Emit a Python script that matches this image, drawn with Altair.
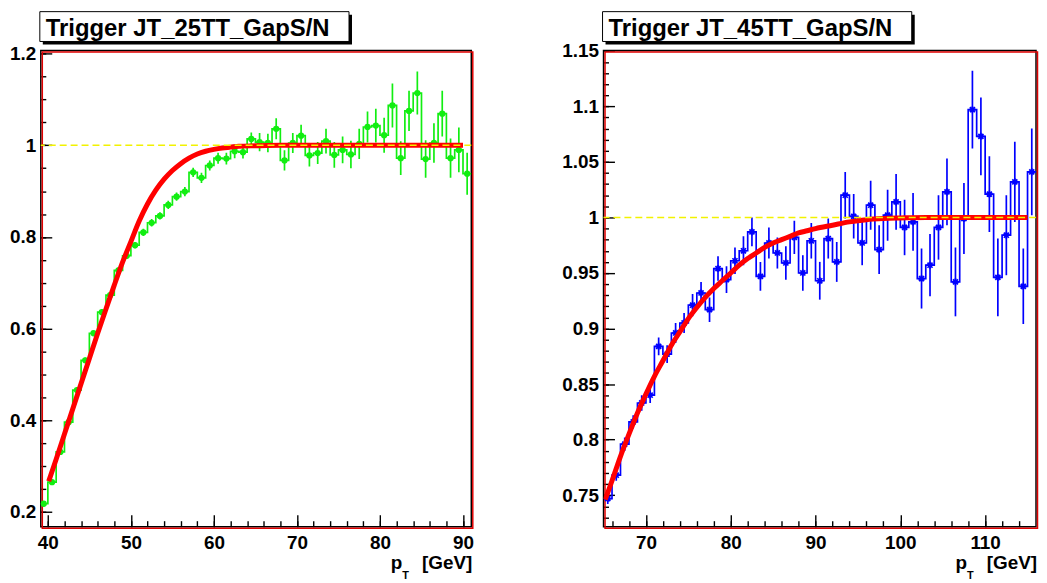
import altair as alt
import pandas as pd

FONT = "Liberation Sans"

# ---------------- left panel : Trigger JT_25TT_GapS/N ----------------
L_TITLE = "Trigger JT_25TT_GapS/N"
L_X = [39.5, 40.5, 41.5, 42.5, 43.5, 44.5, 45.5, 46.5, 47.5, 48.5, 49.5,
       50.5, 51.5, 52.5, 53.5, 54.5, 55.5, 56.5, 57.5, 58.5, 59.5,
       60.5, 61.5, 62.5, 63.5, 64.5, 65.5, 66.5, 67.5, 68.5, 69.5,
       70.5, 71.5, 72.5, 73.5, 74.5, 75.5, 76.5, 77.5, 78.5, 79.5,
       80.5, 81.5, 82.5, 83.5, 84.5, 85.5, 86.5, 87.5, 88.5, 89.5, 90.5]
L_Y = [0.218, 0.265, 0.331, 0.396, 0.466, 0.531, 0.590, 0.636, 0.673, 0.727, 0.759,
       0.782, 0.810, 0.831, 0.846, 0.870, 0.888, 0.899, 0.941, 0.929, 0.956,
       0.972, 0.971, 0.987, 0.985, 1.014, 1.007, 1.005, 1.036, 0.967, 1.005,
       1.021, 0.978, 0.983, 1.009, 0.979, 0.990, 0.980, 1.003, 1.040, 1.043,
       1.022, 1.087, 0.972, 1.075, 1.114, 0.970, 1.005, 1.069, 0.972, 0.990, 0.938]
L_ERR = [0.006, 0.006, 0.006, 0.006, 0.006, 0.006, 0.006, 0.007, 0.007, 0.007, 0.007,
         0.007, 0.008, 0.008, 0.008, 0.009, 0.009, 0.010, 0.010, 0.011, 0.011,
         0.012, 0.013, 0.015, 0.014, 0.014, 0.020, 0.020, 0.023, 0.022, 0.022,
         0.024, 0.024, 0.024, 0.027, 0.028, 0.029, 0.030, 0.033, 0.034, 0.037,
         0.038, 0.048, 0.037, 0.044, 0.047, 0.041, 0.043, 0.050, 0.043, 0.049, 0.046]
L_FIT_X = [40.1, 41, 42, 43, 44, 45, 46, 47, 48, 49, 50, 51, 52, 53, 54, 55, 56,
           57, 58, 59, 60, 61, 62, 63, 65, 68, 72, 80, 90]
L_FIT_Y = [0.267, 0.315, 0.370, 0.425, 0.480, 0.535, 0.590, 0.643, 0.695, 0.745,
           0.790, 0.835, 0.872, 0.902, 0.926, 0.945, 0.960, 0.972, 0.981, 0.987,
           0.991, 0.994, 0.996, 0.998, 0.999, 1.0, 1.0, 1.0, 1.0]
L_XDOM = [39.15, 91.0]
L_YDOM = [0.168, 1.207]
L_XTICKS = [40, 50, 60, 70, 80, 90]
L_XMINOR = [40, 42, 44, 46, 48, 50, 52, 54, 56, 58, 60, 62, 64, 66, 68, 70,
            72, 74, 76, 78, 80, 82, 84, 86, 88, 90]
L_YTICKS = [0.2, 0.4, 0.6, 0.8, 1.0, 1.2]
L_YMINOR = [0.2, 0.25, 0.3, 0.35, 0.4, 0.45, 0.5, 0.55, 0.6, 0.65, 0.7, 0.75,
            0.8, 0.85, 0.9, 0.95, 1.0, 1.05, 1.1, 1.15, 1.2]

# ---------------- right panel : Trigger JT_45TT_GapS/N ----------------
R_TITLE = "Trigger JT_45TT_GapS/N"
R_X = [65.5, 66.5, 67.5, 68.5, 69.5,
       70.5, 71.5, 72.5, 73.5, 74.5, 75.5, 76.5, 77.5, 78.5, 79.5,
       80.5, 81.5, 82.5, 83.5, 84.5, 85.5, 86.5, 87.5, 88.5, 89.5,
       90.5, 91.5, 92.5, 93.5, 94.5, 95.5, 96.5, 97.5, 98.5, 99.5,
       100.5, 101.5, 102.5, 103.5, 104.5, 105.5, 106.5, 107.5, 108.5, 109.5,
       110.5, 111.5, 112.5, 113.5, 114.5, 115.5]
R_Y = [0.747, 0.768, 0.796, 0.816, 0.833,
       0.840, 0.884, 0.877, 0.896, 0.905, 0.921, 0.932, 0.917, 0.954, 0.944,
       0.961, 0.970, 0.987, 0.947, 0.977, 0.968, 0.959, 0.982, 0.950, 0.979,
       0.943, 0.981, 0.960, 1.020, 1.001, 0.977, 1.011, 0.971, 1.002, 1.014,
       0.991, 0.996, 0.945, 0.957, 0.991, 1.023, 0.942, 0.999, 1.097, 1.073,
       1.021, 0.946, 0.984, 1.032, 0.938, 1.041]
R_ERR = [0.005, 0.005, 0.006, 0.006, 0.007,
         0.007, 0.008, 0.008, 0.009, 0.009, 0.010, 0.010, 0.011, 0.011, 0.012,
         0.012, 0.013, 0.013, 0.013, 0.014, 0.014, 0.015, 0.015, 0.016, 0.016,
         0.017, 0.018, 0.018, 0.021, 0.020, 0.020, 0.022, 0.022, 0.023, 0.025,
         0.025, 0.026, 0.027, 0.028, 0.029, 0.030, 0.031, 0.032, 0.035, 0.035,
         0.034, 0.035, 0.036, 0.036, 0.034, 0.039]
R_FIT_X = [65.2, 66, 67, 68, 69, 70, 71, 72, 73, 74, 75, 76, 77, 78, 79, 80, 81,
           82, 83, 84, 85, 86, 87, 88, 89, 90, 92, 94, 96, 98, 100, 103, 106, 110, 115]
R_FIT_Y = [0.746, 0.763, 0.785, 0.805, 0.824, 0.841, 0.857, 0.871, 0.885, 0.897,
           0.909, 0.919, 0.928, 0.936, 0.943, 0.950, 0.957, 0.963, 0.968, 0.973,
           0.977, 0.980, 0.983, 0.986, 0.988, 0.990, 0.993, 0.996, 0.998, 0.999,
           0.9995, 1.0, 1.0, 1.0, 1.0]
R_XDOM = [65.0, 116.0]
R_YDOM = [0.7217, 1.1503]
R_XTICKS = [70, 80, 90, 100, 110]
R_XMINOR = [66, 68, 70, 72, 74, 76, 78, 80, 82, 84, 86, 88, 90, 92, 94, 96, 98,
            100, 102, 104, 106, 108, 110, 112, 114]
R_YTICKS = [0.75, 0.8, 0.85, 0.9, 0.95, 1.0, 1.05, 1.1, 1.15]
R_YMINOR = [0.73, 0.74, 0.75, 0.76, 0.77, 0.78, 0.79, 0.80, 0.81, 0.82, 0.83, 0.84,
            0.85, 0.86, 0.87, 0.88, 0.89, 0.90, 0.91, 0.92, 0.93, 0.94, 0.95, 0.96,
            0.97, 0.98, 0.99, 1.00, 1.01, 1.02, 1.03, 1.04, 1.05, 1.06, 1.07, 1.08,
            1.09, 1.10, 1.11, 1.12, 1.13, 1.14, 1.15]

ASTERISK = "M-1,0L1,0M0,-1L0,1M-0.72,-0.72L0.72,0.72M-0.72,0.72L0.72,-0.72"


def panel(title, xc, yv, ye, fx, fy, xdom, ydom, W, H, color, shape, filled,
          msize, xmaj, xmin, ymaj, ymin):
    xs = alt.Scale(domain=xdom, nice=False, zero=False)
    ys = alt.Scale(domain=ydom, nice=False, zero=False)
    edges = [c - 0.5 for c in xc] + [xc[-1] + 0.5]
    hist = pd.DataFrame({"x": edges, "y": list(yv) + [yv[-1]]})
    pts = pd.DataFrame({"x": xc, "y": yv,
                        "lo": [a - b for a, b in zip(yv, ye)],
                        "hi": [a + b for a, b in zip(yv, ye)]})
    fit = pd.DataFrame({"x": fx, "y": fy})
    one = pd.DataFrame({"x": [xdom[0]], "y": [1.0], "t": [title]})

    lab = dict(labelFont=FONT, labelFontSize=19, labelFontWeight="bold",
               labelColor="black", ticks=False, tickSize=0, domain=False,
               grid=False, title=None, labelFlush=False, labelOverlap=False,
               format="~r")
    xax = alt.Axis(orient="bottom", values=xmaj, labelPadding=7, **lab)
    yax = alt.Axis(orient="left", values=ymaj, labelPadding=5, **lab)

    def tick_axis(orient, vals, size):
        return alt.Axis(orient=orient, values=vals, offset=-size, tickSize=size,
                        ticks=True, labels=False, domain=False, grid=False,
                        title=None, tickColor="black", tickWidth=1.4)

    hist_l = alt.Chart(hist).mark_line(
        interpolate="step-after", color=color, strokeWidth=1.7, clip=True
    ).encode(x=alt.X("x:Q", scale=xs, axis=xax), y=alt.Y("y:Q", scale=ys, axis=yax))

    err_l = alt.Chart(pts).mark_rule(color=color, strokeWidth=1.7, clip=True).encode(
        x=alt.X("x:Q", scale=xs, axis=None),
        y=alt.Y("lo:Q", scale=ys, axis=None), y2="hi:Q")

    pt_l = alt.Chart(pts).mark_point(
        shape=shape, filled=filled, size=msize, color=color, opacity=1,
        strokeWidth=1.7, clip=True
    ).encode(x=alt.X("x:Q", scale=xs, axis=None), y=alt.Y("y:Q", scale=ys, axis=None))

    fit_l = alt.Chart(fit).mark_line(
        color="#ff0000", strokeWidth=5, interpolate="monotone", clip=True
    ).encode(x=alt.X("x:Q", scale=xs, axis=None), y=alt.Y("y:Q", scale=ys, axis=None))

    one_l = alt.Chart(one).mark_rule(
        color="#f2f200", strokeDash=[7, 4], strokeWidth=1.6
    ).encode(y=alt.Y("y:Q", scale=ys, axis=None))

    frame_l = alt.Chart(one).mark_rect(
        fillOpacity=0, stroke="#e00000", strokeWidth=1.5
    ).encode(x=alt.value(1.5), x2=alt.value(W + 1.5), y=alt.value(1.5), y2=alt.value(H + 1.5))

    ticks = []
    for orient, vals, size in [("bottom", xmaj, 12), ("bottom", xmin, 6)]:
        ticks.append(alt.Chart(one).mark_point(opacity=0).encode(
            x=alt.X("x:Q", scale=xs, axis=tick_axis(orient, vals, size)),
            y=alt.Y("y:Q", scale=ys, axis=None)))
    for orient, vals, size in [("left", ymaj, 11), ("left", ymin, 5)]:
        ticks.append(alt.Chart(one).mark_point(opacity=0).encode(
            x=alt.X("x:Q", scale=xs, axis=None),
            y=alt.Y("y:Q", scale=ys, axis=tick_axis(orient, vals, size))))

    shadow = alt.Chart(one).mark_rect(fill="black").encode(
        x=alt.value(2), x2=alt.value(313), y=alt.value(-36), y2=alt.value(-6))
    box = alt.Chart(one).mark_rect(fill="white", stroke="black", strokeWidth=1).encode(
        x=alt.value(-1), x2=alt.value(310), y=alt.value(-39), y2=alt.value(-9))
    ttl = alt.Chart(one).mark_text(
        font=FONT, fontSize=24, fontWeight="bold", color="black",
        align="left", baseline="alphabetic"
    ).encode(text="t:N", x=alt.value(5), y=alt.value(-15))

    p_l = alt.Chart(one).mark_text(
        text="p", font=FONT, fontSize=19, fontWeight="bold", color="black",
        align="left", baseline="alphabetic").encode(x=alt.value(W - 81), y=alt.value(H + 43))
    t_l = alt.Chart(one).mark_text(
        text="T", font=FONT, fontSize=11, fontWeight="bold", color="black",
        align="left", baseline="alphabetic").encode(x=alt.value(W - 69.5), y=alt.value(H + 53))
    g_l = alt.Chart(one).mark_text(
        text="[GeV]", font=FONT, fontSize=19, fontWeight="bold", color="black",
        align="right", baseline="alphabetic").encode(x=alt.value(W + 1), y=alt.value(H + 43))

    layers = [frame_l, hist_l, err_l, pt_l, fit_l, one_l] + ticks + \
             [shadow, box, ttl, p_l, t_l, g_l]
    return alt.layer(*layers).resolve_axis(x="independent", y="independent").properties(
        width=W, height=H)


left = panel(L_TITLE, L_X, L_Y, L_ERR, L_FIT_X, L_FIT_Y, L_XDOM, L_YDOM, 433, 479,
             "#11ee11", "circle", True, 40, L_XTICKS, L_XMINOR, L_YTICKS, L_YMINOR)
right = panel(R_TITLE, R_X, R_Y, R_ERR, R_FIT_X, R_FIT_Y, R_XDOM, R_YDOM, 435, 479,
              "#0000ff", ASTERISK, False, 50, R_XTICKS, R_XMINOR, R_YTICKS, R_YMINOR)

chart = alt.hconcat(left, right, spacing=133, bounds="flush", padding=0).configure_view(
    stroke="black", strokeWidth=1.5)

chart.save("out.html", embed_options={"renderer": "svg", "actions": False})
